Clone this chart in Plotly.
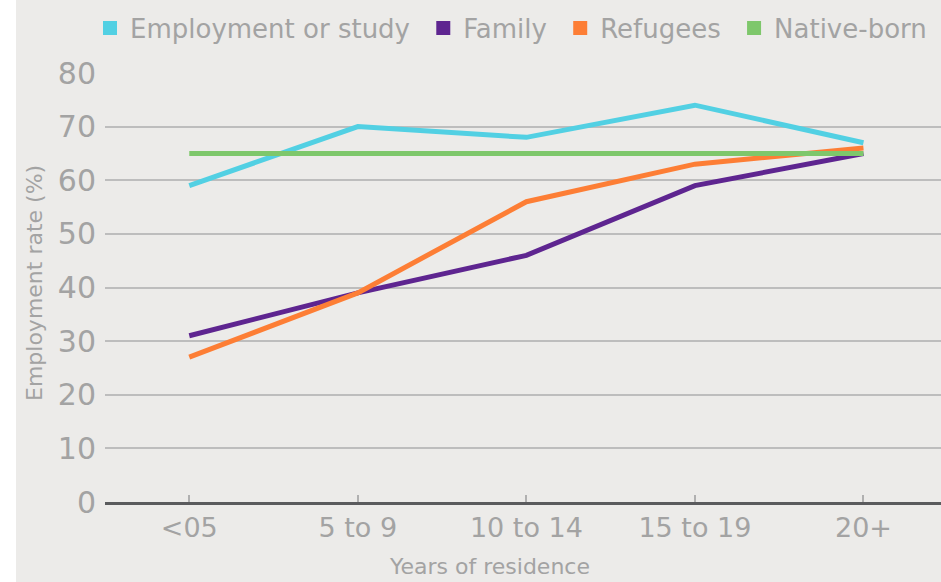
import plotly.graph_objects as go

categories = ["<05", "5 to 9", "10 to 14", "15 to 19", "20+"]
employment_study = [59, 70, 68, 74, 67]
family = [31, 39, 46, 59, 65]
refugees = [27, 39, 56, 63, 66]
native_born = [65, 65, 65, 65, 65]

series_names = ["Employment or study", "Family", "Refugees", "Native-born"]
series_values = [employment_study, family, refugees, native_born]
colors = ["#52d0e3", "#5e2590", "#fd7e35", "#7ec76b"]

FONT = "DejaVu Sans, sans-serif"
BG = "#ecebe9"
TXT = "#a3a3a3"

L, R, T, B = 105, 0, 73, 80
W, H = 941, 582
PW, PH = W - L - R, H - T - B

fig = go.Figure()
xi = list(range(len(categories)))
for name, vals, col in zip(series_names, series_values, colors):
    fig.add_trace(go.Scatter(x=xi, y=vals, mode="lines", name=name,
                             line=dict(color=col, width=5), showlegend=False,
                             hoverinfo="skip"))
# legend entries with square markers (a trailing no-break space widens the gaps)
for name, col in zip(series_names, colors):
    fig.add_trace(go.Scatter(x=[None], y=[None], mode="markers", name=name + "\u00a0",
                             marker=dict(symbol="square", size=14, color=col)))

fig.update_layout(
    width=W, height=H,
    margin=dict(l=L, r=R, t=T, b=B),
    paper_bgcolor=BG, plot_bgcolor=BG,
    font=dict(family=FONT, color=TXT, size=28),
    legend=dict(orientation="h", x=-0.007, xanchor="left",
                y=1 + (T - 28) / PH, yanchor="middle",
                font=dict(size=26, color=TXT), bgcolor="rgba(0,0,0,0)",
                itemclick=False),
    showlegend=True,
)
fig.update_xaxes(
    range=[-0.5, 4.46], tickmode="array", tickvals=xi, ticktext=categories,
    tickson="boundaries", ticks="inside", ticklen=7, tickwidth=1.5, tickcolor="#b0b0b0",
    showgrid=False, zeroline=False, showline=True, linecolor="#5a5b5d", linewidth=3,
    tickfont=dict(size=27, color=TXT),
)
fig.update_yaxes(
    range=[0, 80], tickvals=list(range(0, 81, 10)),
    showgrid=True, gridcolor="#bdbdbd", gridwidth=2, zeroline=False,
    showline=False, ticks="", ticklabelstandoff=8,
    tickfont=dict(size=30, color=TXT),
)
# axis titles
fig.add_annotation(text="Years of residence", xref="paper", yref="paper",
                   x=(489 - L) / PW, y=-(566 - (T + PH)) / PH, xanchor="center", yanchor="middle",
                   showarrow=False, font=dict(size=22, color=TXT))
fig.add_annotation(text="Employment rate (%)", xref="paper", yref="paper",
                   x=(34 - L) / PW, y=1 - (283 - T) / PH, xanchor="center", yanchor="middle",
                   textangle=-90, showarrow=False, font=dict(size=22, color=TXT))
# white strip on the left edge of the page
fig.add_shape(type="rect", xref="paper", yref="paper", x0=-L / PW - 0.05, x1=(16 - L) / PW,
              y0=-1, y1=2, fillcolor="white", line=dict(width=0), layer="below")

fig.write_html("out.html")
